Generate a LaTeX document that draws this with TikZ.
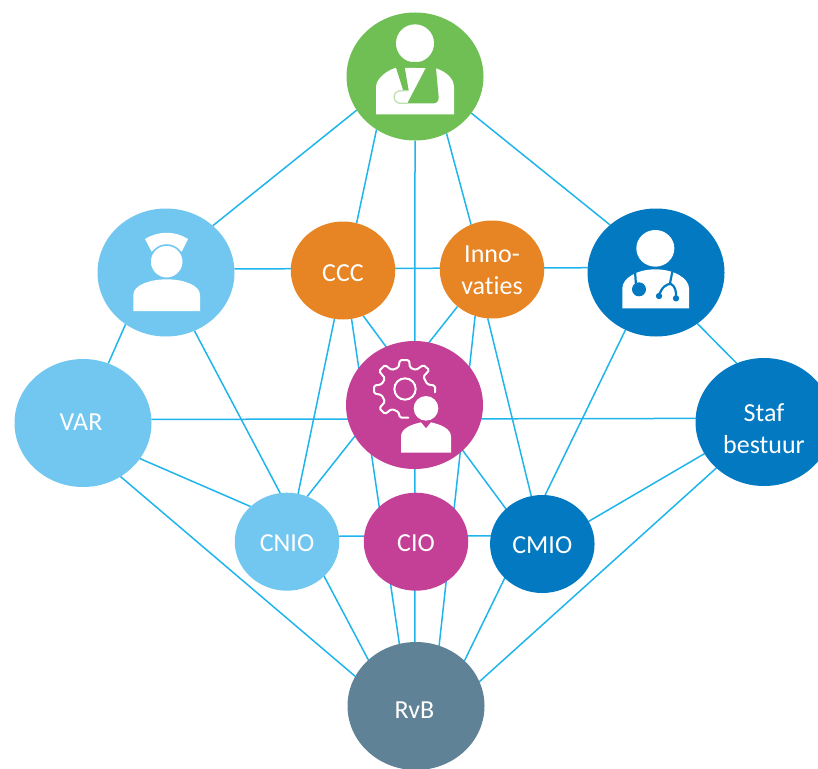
\documentclass[tikz,border=0pt]{standalone}
\usepackage{fontspec}
\setmainfont[Ligatures=NoCommon]{Carlito}
\usetikzlibrary{shapes.geometric,backgrounds}
\definecolor{cgreen}{HTML}{70BF55}
\definecolor{clight}{HTML}{72C7F0}
\definecolor{cdark}{HTML}{0279C1}
\definecolor{cmag}{HTML}{C34096}
\definecolor{corange}{HTML}{E78424}
\definecolor{cslate}{HTML}{5F8296}
\definecolor{cline}{HTML}{1FB5EC}
\definecolor{cpale}{HTML}{BFE0B0}
\newcommand\lowtext[2]{\raisebox{-#1}{#2}}
\newcommand\lowstack[3]{\raisebox{-#1}{\begin{tabular}[b]{@{}c@{}}#2\\#3\end{tabular}}}
\tikzset{
  blob/.style={ellipse,inner sep=0pt,outer sep=0pt,text=white,text height=0pt,text depth=0pt,font=\fontsize{26}{32}\selectfont},
  big/.style={blob,minimum width=137pt,minimum height=128pt},
  small/.style={blob,minimum width=104.5pt,minimum height=98pt},
  conn/.style={draw=cline,line width=1.5pt},
  zoomed/.style={x=0.33333pt,y=-0.33333pt},
  gearline/.style={draw=white,line width=2pt,rounded corners=1.5pt,line cap=round}
}
\begin{document}
\begin{tikzpicture}[x=1pt,y=-1pt]
\path[use as bounding box,clip] (0,0) rectangle (818,768);
\node[big,fill=cgreen] (patient) at (415,76.5) {};
\node[big,fill=clight] (nurse) at (166,272.5) {};
\node[big,fill=cdark] (doctor) at (656,272.5) {};
\node[small,fill=corange] (ccc) at (343,270.5) {\lowtext{11.2pt}{CCC}};
\node[small,fill=corange] (inno) at (492,269.5) {\lowstack{24.5pt}{Inno-}{vaties}};
\node[big,fill=cmag] (mid) at (414.5,405) {};
\node[big,fill=clight] (var) at (83,423) {\lowtext{7pt}{\hspace*{-4pt}VAR}};
\node[big,fill=cdark] (staf) at (764,422) {\lowstack{31pt}{Staf}{bestuur}};
\node[small,fill=clight] (cnio) at (287,541.7) {\lowtext{10pt}{CNIO}};
\node[small,fill=cmag] (cio) at (416,541.7) {\lowtext{10pt}{CIO}};
\node[small,fill=cdark] (cmio) at (542.3,544) {\lowtext{9.5pt}{CMIO}};
\node[big,fill=cslate] (rvb) at (416,706) {\lowtext{12pt}{\hspace*{-3pt}RvB}};
\begin{scope}[on background layer]
\draw[conn] (patient.210) -- (nurse.45.9);
\draw[conn] (patient.234.4) -- (ccc.74);
\draw[conn] (patient.270) -- (rvb.91);
\draw[conn] (patient.299.5) -- (inno.115.8);
\draw[conn] (patient.327.4) -- (doctor.134.7);
\draw[conn] (nurse.3.3) -- (doctor.176.7);
\draw[conn] (nurse.232.5) -- (var.67.4);
\draw[conn] (nurse.296.6) -- (rvb.136.4);
\draw[conn] (ccc.260.8) -- (cnio.77.3);
\draw[conn] (ccc.280.5) -- (rvb.105.9);
\draw[conn] (ccc.294.8) -- (cmio.136.8);
\draw[conn] (inno.227.9) -- (cnio.66.4);
\draw[conn] (inno.250.3) -- (rvb.69.3);
\draw[conn] (inno.265.3) -- (cmio.103.6);
\draw[conn] (doctor.242.3) -- (rvb.43.8);
\draw[conn] (doctor.309.4) -- (staf.115.8);
\draw[conn] (var.3.8) -- (staf.177);
\draw[conn] (var.328.7) -- (cnio.136.8);
\draw[conn] (var.305) -- (rvb.154.2);
\draw[conn] (cnio.6.3) -- (cmio.171.3);
\draw[conn] (staf.208) -- (cmio.26.5);
\draw[conn] (staf.224.4) -- (rvb.21.3);
\end{scope}
% patient icon
\begin{scope}[shift={(340,0)},zoomed]
\fill[white] (225,130) circle[x radius=57,y radius=-57];
\fill[white] (108,343) -- (108,262) .. controls (108,235) and (140,212) .. (168,203) -- (288,205) .. controls (318,215) and (342,235) .. (342,262) -- (342,343) -- cycle;
\fill[cgreen] (160,186) -- (295,186) -- (288,205) -- (296,292) .. controls (296,304) and (290,310) .. (280,310) -- (202,310) -- (262,195) -- (193,195) -- (206,272) -- (190,272) -- (168,203) -- cycle;
\draw[cpale,line width=1.3pt] (203,272) -- (182,272) .. controls (156,272) and (156,310) .. (182,310) -- (203,310);
\end{scope}
% nurse icon
\begin{scope}[shift={(90,200)},zoomed]
\fill[white] (165,117) .. controls (205,92) and (255,92) .. (294,117) -- (275,155) .. controls (250,135) and (210,135) .. (185,155) -- cycle;
\fill[white,draw=clight,line width=1.6pt] (230,185) circle[x radius=50,y radius=-50];
\fill[white] (130,333) -- (130,285) .. controls (130,255) and (180,238) .. (230,238) .. controls (280,238) and (330,255) .. (330,285) -- (330,333) -- cycle;
\end{scope}
% doctor icon
\begin{scope}[shift={(580,200)},zoomed]
\fill[white] (226,145) circle[x radius=57,y radius=-55];
\fill[white] (127,325) -- (127,265) .. controls (127,235) and (170,208) .. (226,208) .. controls (282,208) and (327,235) .. (327,265) -- (327,325) -- cycle;
\draw[cdark,line width=2.2pt] (165,215) -- (168,255);
\fill[cdark] (177,268) circle[x radius=21,y radius=-21];
\draw[cdark,line width=2.2pt] (277,215) -- (270,250);
\draw[cdark,line width=2.2pt] (237,288) .. controls (243,262) and (262,250) .. (273,252) .. controls (285,258) and (290,275) .. (288,295);
\fill[cdark] (237,288) circle[x radius=9.5,y radius=-9.5];
\fill[cdark] (288,295) circle[x radius=9.5,y radius=-9.5];
\end{scope}
% staff icon
\begin{scope}[shift={(340,335)},zoomed]
\draw[gearline] (285,172) -- (285,152) -- (262,148) -- (250,125) -- (268,105) -- (250,90) -- (228,105) -- (210,98) -- (207,75) -- (180,75) -- (175,98) -- (155,105) -- (135,90) -- (117,108) -- (135,130) -- (125,148) -- (102,152) -- (102,175) -- (125,180) -- (135,200) -- (118,220) -- (135,237) -- (155,222) -- (175,230) -- (180,248) -- (205,248);
\draw[white,line width=2pt] (195,162) circle[x radius=32,y radius=-32];
\fill[white] (258,220) circle[x radius=37,y radius=-37];
\fill[white] (183,353) -- (183,305) .. controls (183,280) and (215,268) .. (243,262) -- (258,280) -- (273,262) .. controls (300,268) and (333,280) .. (333,305) -- (333,353) -- cycle;
\end{scope}
\end{tikzpicture}
\end{document}
